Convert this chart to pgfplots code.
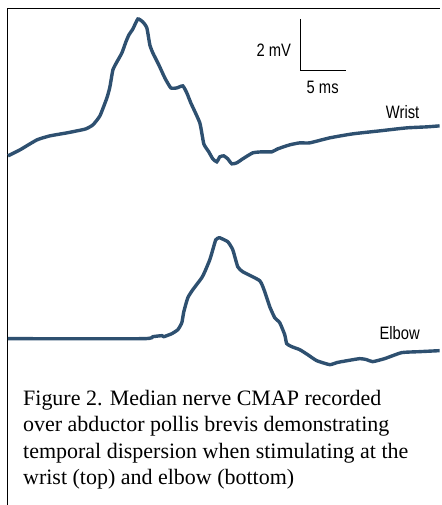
\documentclass[border=0pt]{standalone}
\usepackage{pgfplots}
\pgfplotsset{compat=1.18}
\usepackage{fontspec}
\setmainfont{Liberation Serif}
\newfontfamily\cond[FakeStretch=0.82]{Liberation Sans}
\definecolor{trace}{HTML}{2E5070}
\begin{document}
\begin{tikzpicture}
\begin{axis}[
  scale only axis, width=440pt, height=505pt,
  xmin=0, xmax=440, ymin=0, ymax=505, y dir=reverse,
  hide axis, clip=false,
]
% keep the full page
\path[draw=none] (axis cs:0,0) rectangle (axis cs:440,505);
% frame (top and left)
\addplot[black, line width=1pt] coordinates {(8,505) (8,9) (440,9)};
% scale bar
\addplot[black, line width=1pt] coordinates {(301,19) (301,71) (346,71)};
\node[font=\cond\fontsize{18}{18}\selectfont] at (axis cs:274,50) {2 mV};
\node[font=\cond\fontsize{18}{18}\selectfont] at (axis cs:323,87) {5 ms};
\node[font=\cond\fontsize{18}{18}\selectfont] at (axis cs:403,112) {Wrist};
\node[font=\cond\fontsize{18}{18}\selectfont] at (axis cs:400,333) {Elbow};
% wrist
\addplot[trace, line width=3.4pt, smooth, tension=0.3] coordinates {
(8,156) (20,150) (37,140) (50,136) (67,133) (77,131) (86,129) (93,125)
(100,116) (107,98) (110,87) (113,70) (117,62) (122,53) (126,42) (129,35)
(133,29) (138,19) (143,22) (147,28) (150,45) (153,53) (159,65) (165,78)
(171,88) (177,88) (183,86) (187,93) (191,103) (200,123) (204,144) (209,152)
(213,159) (217,162) (220,157) (224,156) (228,159) (232,164) (237,163)
(243,159) (253,153) (262,152) (272,152) (278,149) (290,145) (300,143)
(310,143) (330,138) (353,134) (380,131) (407,128) (427,127) (440,126)};
% elbow
\addplot[trace, line width=3.4pt, smooth, tension=0.3] coordinates {
(8,339) (143,339) (153,337) (162,336) (164,337) (172,334) (178,330)
(182,323) (184,312) (188,298) (193,290) (202,278) (205,272) (210,260)
(213,250) (216,240) (219,238) (220,238) (228,242) (233,250) (238,267)
(243,272) (260,281) (265,292) (270,307) (275,318) (280,323) (285,335)
(287,344) (292,347) (300,350) (308,355) (317,361) (330,365) (337,363)
(342,362) (360,359) (367,360) (373,362) (385,359) (402,353) (420,352)
(440,351)};
\node[anchor=base west, align=left, font=\fontsize{22}{26.5}\selectfont, inner sep=0pt]
  at (axis cs:23,485) {Figure 2. Median nerve CMAP recorded\\over abductor pollis brevis demonstrating\\temporal dispersion when stimulating at the\\wrist (top) and elbow (bottom)};
\end{axis}
\end{tikzpicture}
\end{document}
